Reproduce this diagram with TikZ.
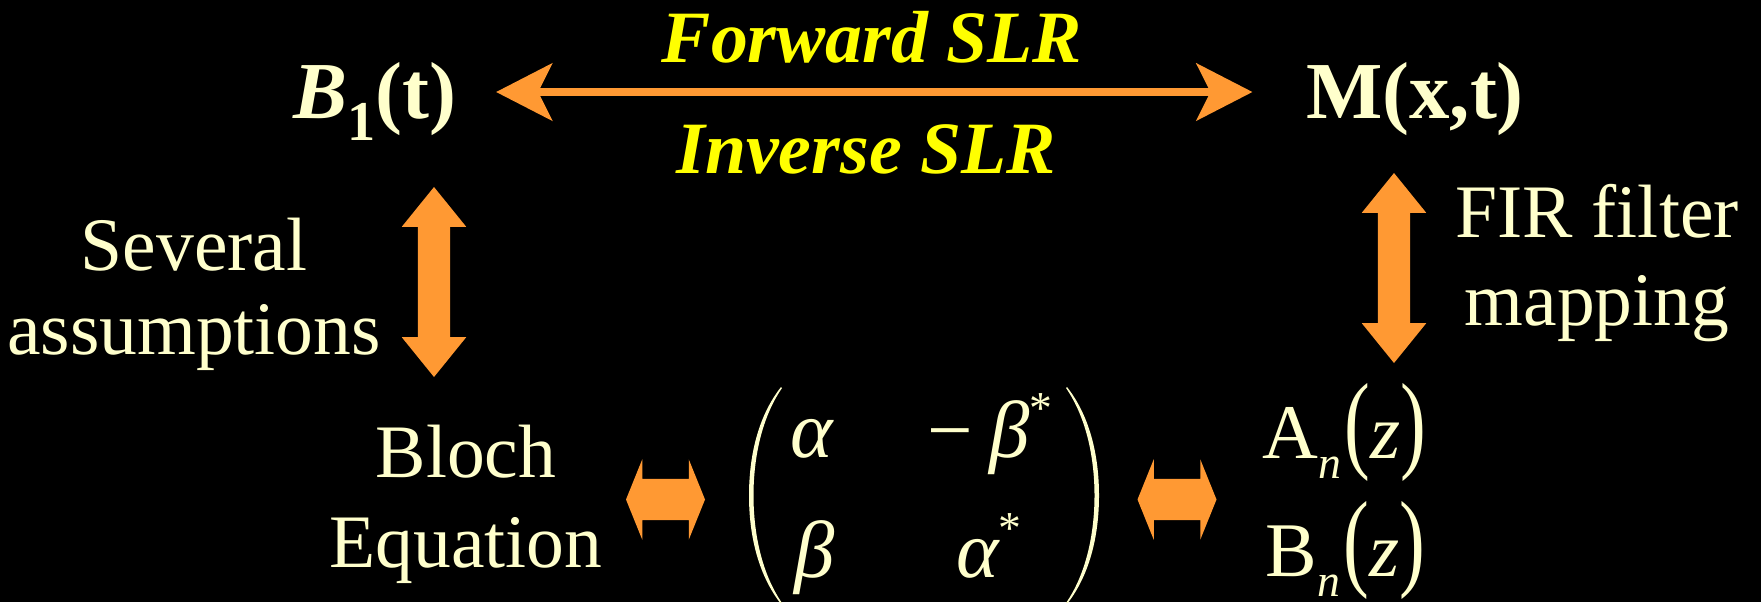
\documentclass[tikz,border=0pt]{standalone}
\usepackage{fontspec}
\setmainfont{Liberation Serif}
\usepackage{graphicx}
\usetikzlibrary{arrows.meta, shapes.arrows}

\definecolor{cream}{HTML}{FFFFCC}
\definecolor{slrorange}{HTML}{FF9933}
\definecolor{slryellow}{HTML}{FFFF00}

% raised conjugate star
\newcommand{\cstar}{\raisebox{9.4pt}{\fontsize{13}{13}\selectfont\upshape *}}
% tall parentheses
\newcommand{\tallL}{\scalebox{1}[1.4]{(}}
\newcommand{\tallR}{\scalebox{1}[1.4]{)}}

\begin{document}
\begin{tikzpicture}[
  lbl/.style={text=cream, inner sep=0, font=\fontsize{21.5}{24}\selectfont},
  big/.style={text=cream, inner sep=0, font=\fontsize{23}{26}\selectfont\bfseries,
    text height=6mm, text depth=0.8mm},
  slrtxt/.style={text=slryellow, inner sep=0, font=\fontsize{21}{24}\selectfont\bfseries\itshape},
  entry/.style={text=cream, inner sep=0, font=\fontsize{23}{26}\selectfont\itshape},
  poly/.style={text=cream, inner sep=0, font=\fontsize{22}{25}\selectfont},
  slr/.style={draw=slrorange, line width=2.3pt,
    {Stealth[length=5.6mm,width=5.7mm,inset=1.4mm]}-{Stealth[length=5.6mm,width=5.7mm,inset=1.4mm]}},
  vbar/.style={shape=double arrow, fill=slrorange, inner xsep=0, inner ysep=1.55mm,
    rotate=90, minimum height=1.9cm,
    double arrow head extend=1.6mm, double arrow tip angle=78},
  hbar/.style={shape=double arrow, fill=slrorange, inner xsep=0, inner ysep=2mm,
    minimum height=7.9mm,
    double arrow head extend=1.95mm, double arrow tip angle=136}
]
% background
\path[use as bounding box, fill=black] (0,0) rectangle (17.61,6.02);

% top row
\node[big, anchor=base] (b1) at (3.75,4.84)
  {\textit{B}\raisebox{-6.3pt}{\fontsize{16}{16}\selectfont 1}(t)};
\node[big, anchor=base] (mxt) at (14.15,4.84) {M(x,t)};
\draw[slr, shorten <=3.9mm, shorten >=5.3mm] (b1.east) -- (mxt.west);

\node[slrtxt, anchor=base] (fwd) at (8.72,5.40) {Forward SLR};
\node[slrtxt, anchor=base] (inv) at (8.66,4.29) {Inverse SLR};

% left side
\node[vbar] (assume) at (4.34,3.20) {};
\node[lbl, anchor=base] (sev) at (1.94,3.32) {Several};
\node[lbl, anchor=base] (asm) at (1.94,2.48) {assumptions};

% right side
\node[vbar] (fir) at (13.94,3.34) {};
\node[lbl, anchor=base] (firtxt) at (15.97,3.65) {FIR filter};
\node[lbl, anchor=base] (map) at (15.97,2.77) {mapping};

% bottom row
\node[lbl, anchor=base] (bloch) at (4.66,1.25) {Bloch};
\node[lbl, anchor=base] (eqn) at (4.66,0.35) {Equation};
\node[hbar] (lr1) at (6.655,1.025) {};

% spin-domain matrix
\fill[cream] (7.81,2.15) .. controls (7.575,1.85) and (7.49,1.45) .. (7.49,1.065)
  .. controls (7.49,0.68) and (7.575,0.28) .. (7.81,-0.02)
  -- (7.82,-0.01) .. controls (7.62,0.28) and (7.535,0.68) .. (7.535,1.065)
  .. controls (7.535,1.45) and (7.62,1.85) .. (7.82,2.14) -- cycle;
\begin{scope}[xshift=18.48cm, xscale=-1]
\fill[cream] (7.81,2.15) .. controls (7.575,1.85) and (7.49,1.45) .. (7.49,1.065)
  .. controls (7.49,0.68) and (7.575,0.28) .. (7.81,-0.02)
  -- (7.82,-0.01) .. controls (7.62,0.28) and (7.535,0.68) .. (7.535,1.065)
  .. controls (7.535,1.45) and (7.62,1.85) .. (7.82,2.14) -- cycle;
\end{scope}
\node[entry, anchor=base] (a11) at (8.12,1.45) {α};
\node[entry, anchor=base] (a12) at (9.90,1.45) {{\upshape −}\hspace{0.2em}β\cstar};
\node[entry, anchor=base] (a21) at (8.15,0.25) {β};
\node[entry, anchor=base] (a22) at (9.89,0.25) {α\cstar};

\node[hbar] (lr2) at (11.77,1.025) {};

% polynomials
\node[poly, anchor=base west] (an) at (12.62,1.44)
  {A\raisebox{-5.7pt}{\fontsize{13}{13}\selectfont\itshape n}\hspace{1pt}\tallL\textit{z}\tallR};
\node[poly, anchor=base west] (bn) at (12.65,0.26)
  {B\raisebox{-5.7pt}{\fontsize{13}{13}\selectfont\itshape n}\hspace{1pt}\tallL\textit{z}\tallR};
\end{tikzpicture}
\end{document}
